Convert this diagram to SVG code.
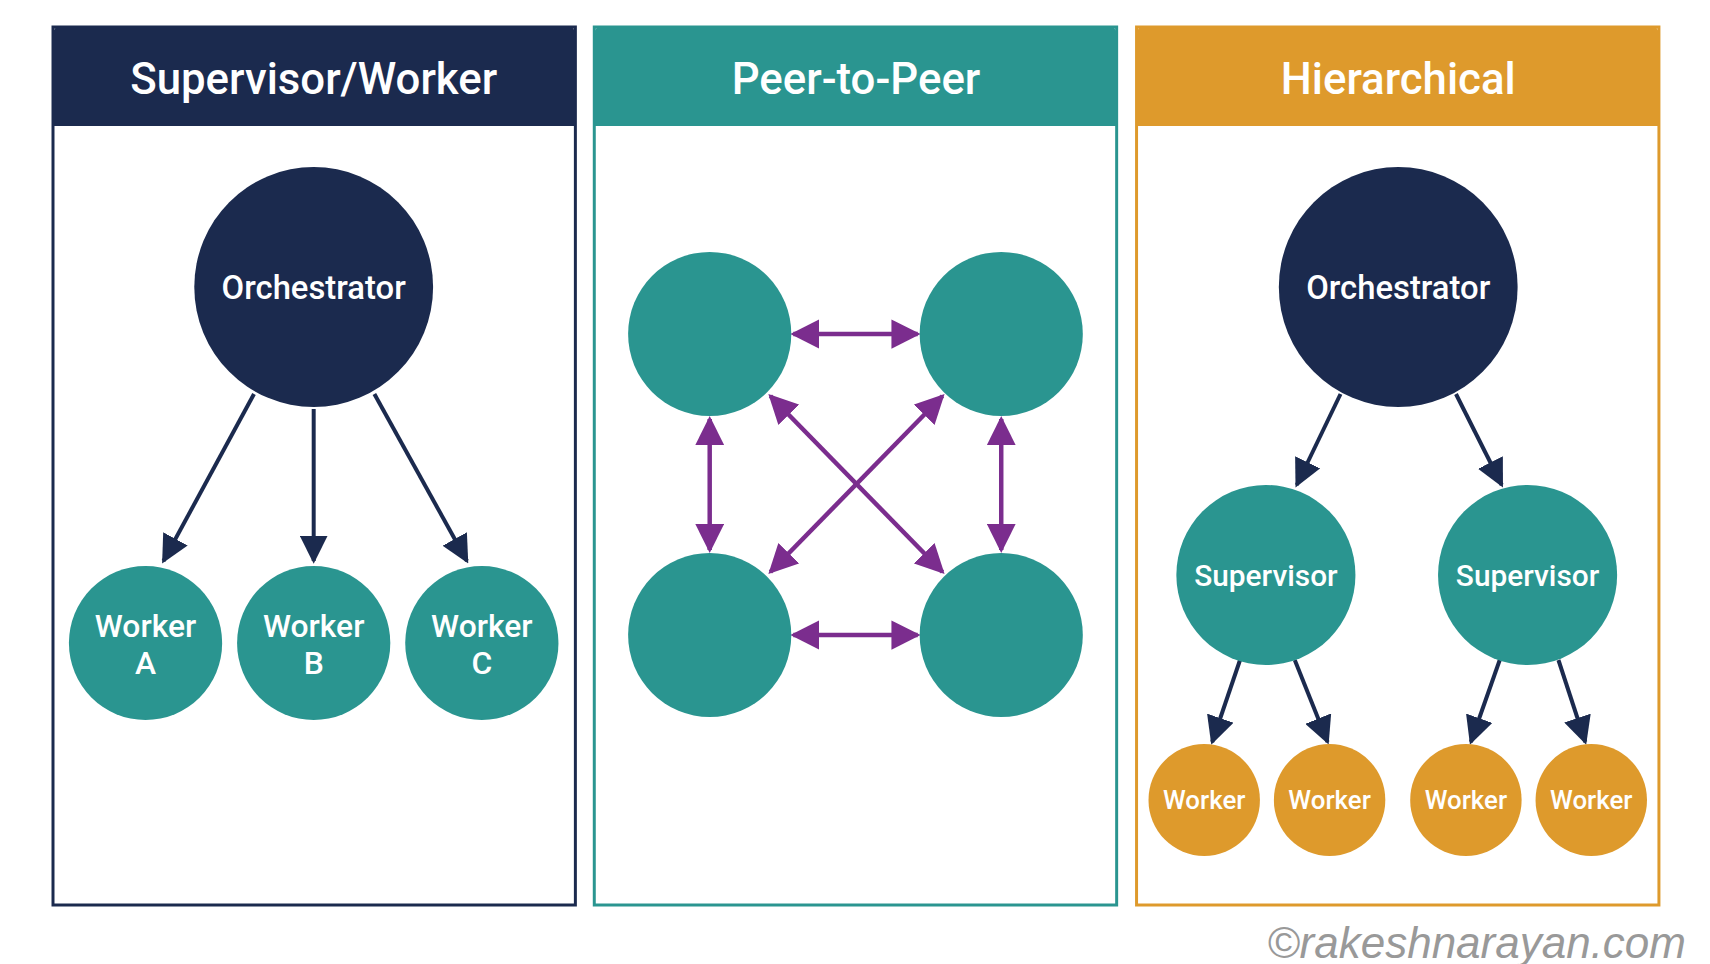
<svg xmlns="http://www.w3.org/2000/svg" width="1710" height="964" viewBox="0 0 1710 964">
<style>
text{font-family:"Roboto","Liberation Sans",sans-serif;fill:#fff;text-anchor:middle;dominant-baseline:central;font-weight:500}
.h{font-size:44px}
.o{font-size:33px}
.w{font-size:32px}
.s{font-size:30px}
.sw{font-size:26px}
.nv{fill:#1B2A4E}.tl{fill:#2A9590}.or{fill:#DE9A2C}
.an{stroke:#1B2A4E;stroke-width:4;fill:none;marker-end:url(#mn)}
.ap{stroke:#7B2D8E;stroke-width:4.5;fill:none;marker-start:url(#mp);marker-end:url(#mp)}
</style>
<defs>
<marker id="mn" viewBox="0 0 10 10" refX="9" refY="5" markerWidth="7" markerHeight="7" orient="auto-start-reverse" markerUnits="strokeWidth"><path d="M0,0L10,5L0,10z" fill="#1B2A4E"/></marker>
<marker id="mp" viewBox="0 0 10 10" refX="9" refY="5" markerWidth="6.5" markerHeight="6.5" orient="auto-start-reverse" markerUnits="strokeWidth"><path d="M0,0L10,5L0,10z" fill="#7B2D8E"/></marker>
</defs>
<rect width="1710" height="964" fill="#fff"/>
<g transform="translate(53,0) scale(0.995,1) translate(-53,0)">
<g id="panel1">
<rect x="53" y="27" width="525" height="878" fill="#fff" stroke="#1B2A4E" stroke-width="3"/>
<path d="M53,126V34a8,8 0 0 1 8,-8H570a8,8 0 0 1 8,8V126z" class="nv"/>
<text x="315" y="79" class="h">Supervisor/Worker</text>
</g>
<g id="panel2">
<rect x="597" y="27" width="525" height="878" fill="#fff" stroke="#2A9590" stroke-width="3"/>
<path d="M597,126V34a8,8 0 0 1 8,-8H1114a8,8 0 0 1 8,8V126z" class="tl"/>
<text x="860" y="79" class="h">Peer-to-Peer</text>
</g>
<g id="panel3">
<rect x="1142" y="27" width="525" height="878" fill="#fff" stroke="#DE9A2C" stroke-width="3"/>
<path d="M1142,126V34a8,8 0 0 1 8,-8H1659a8,8 0 0 1 8,8V126z" class="or"/>
<text x="1405" y="79" class="h">Hierarchical</text>
</g>
<g id="connectors">
<line x1="255" y1="394" x2="164" y2="561" class="an"/>
<line x1="315" y1="409" x2="315" y2="561" class="an"/>
<line x1="376" y1="394" x2="469" y2="561" class="an"/>
<line x1="797" y1="334" x2="922" y2="334" class="ap"/>
<line x1="797" y1="635" x2="922" y2="635" class="ap"/>
<line x1="713" y1="419" x2="713" y2="550" class="ap"/>
<line x1="1006" y1="419" x2="1006" y2="550" class="ap"/>
<line x1="774" y1="396" x2="947" y2="572" class="ap"/>
<line x1="947" y1="396" x2="774" y2="572" class="ap"/>
<line x1="1347" y1="394" x2="1303" y2="485" class="an"/>
<line x1="1463" y1="394" x2="1509" y2="485" class="an"/>
<line x1="1246" y1="660" x2="1218" y2="742" class="an"/>
<line x1="1301" y1="660" x2="1334" y2="742" class="an"/>
<line x1="1507" y1="660" x2="1478" y2="742" class="an"/>
<line x1="1566" y1="660" x2="1593" y2="742" class="an"/>
</g>
<g id="orch1"><circle cx="315" cy="287" r="120" class="nv"/><text x="315" y="287" class="o">Orchestrator</text></g>
<g id="workerA"><circle cx="146" cy="643" r="77" class="tl"/><text x="146" y="626" class="w">Worker</text><text x="146" y="663" class="w">A</text></g>
<g id="workerB"><circle cx="315" cy="643" r="77" class="tl"/><text x="315" y="626" class="w">Worker</text><text x="315" y="663" class="w">B</text></g>
<g id="workerC"><circle cx="484" cy="643" r="77" class="tl"/><text x="484" y="626" class="w">Worker</text><text x="484" y="663" class="w">C</text></g>
<g id="peer1"><circle cx="713" cy="334" r="82" class="tl"/></g>
<g id="peer2"><circle cx="1006" cy="334" r="82" class="tl"/></g>
<g id="peer3"><circle cx="713" cy="635" r="82" class="tl"/></g>
<g id="peer4"><circle cx="1006" cy="635" r="82" class="tl"/></g>
<g id="orch2"><circle cx="1405" cy="287" r="120" class="nv"/><text x="1405" y="287" class="o">Orchestrator</text></g>
<g id="sup1"><circle cx="1272" cy="575" r="90" class="tl"/><text x="1272" y="575" class="s">Supervisor</text></g>
<g id="sup2"><circle cx="1535" cy="575" r="90" class="tl"/><text x="1535" y="575" class="s">Supervisor</text></g>
<g id="hw1"><circle cx="1210" cy="800" r="56" class="or"/><text x="1210" y="800" class="sw">Worker</text></g>
<g id="hw2"><circle cx="1336" cy="800" r="56" class="or"/><text x="1336" y="800" class="sw">Worker</text></g>
<g id="hw3"><circle cx="1473" cy="800" r="56" class="or"/><text x="1473" y="800" class="sw">Worker</text></g>
<g id="hw4"><circle cx="1599" cy="800" r="56" class="or"/><text x="1599" y="800" class="sw">Worker</text></g>
</g>
<text x="1686" y="942" style="fill:#999;font-family:'Liberation Sans',sans-serif;font-style:italic;font-weight:normal;font-size:44px;text-anchor:end">©rakeshnarayan.com</text>
</svg>
